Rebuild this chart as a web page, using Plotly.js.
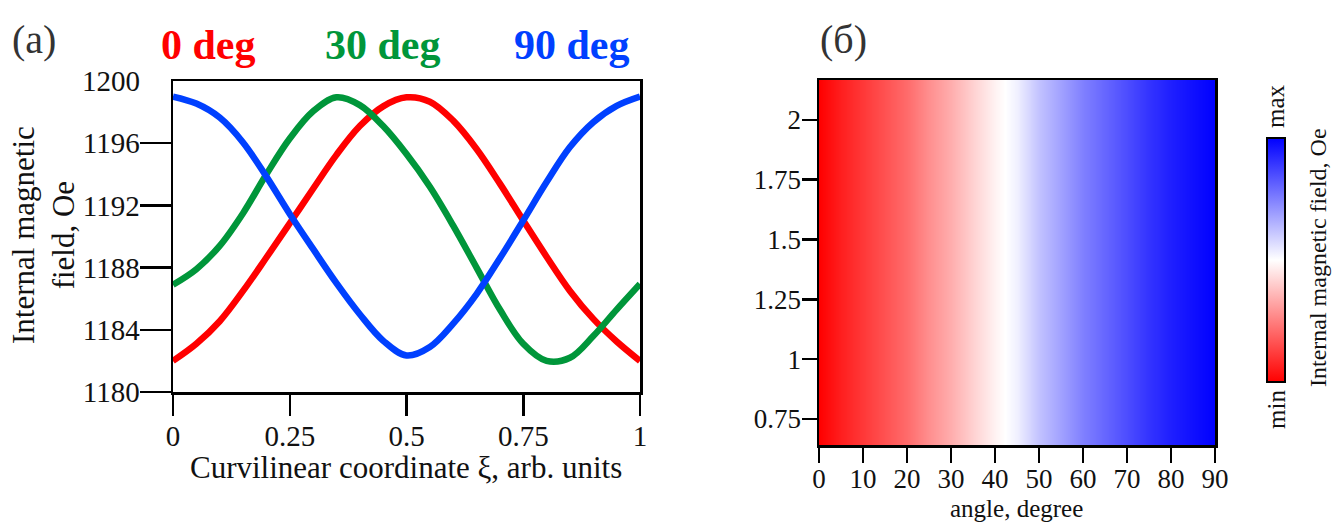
<!DOCTYPE html>
<html>
<head>
<meta charset="utf-8">
<script src="https://cdn.plot.ly/plotly-3.0.1.min.js"></script>
<style>
html,body{margin:0;padding:0;background:#fff;}
#chart{width:1334px;height:522px;}
</style>
</head>
<body>
<div id="chart"></div>
<script>
// ---- Panel (a): field along the curvilinear coordinate ----
const xi = [0, 0.05, 0.10, 0.15, 0.20, 0.25, 0.30, 0.35, 0.40, 0.45, 0.50,
            0.55, 0.60, 0.65, 0.70, 0.75, 0.80, 0.85, 0.90, 0.95, 1.0];
const field0deg  = [1182.0, 1183.1, 1184.55, 1186.5, 1188.65, 1190.85, 1193.07, 1195.25, 1197.1, 1198.37, 1198.95,
                    1198.67, 1197.45, 1195.63, 1193.4, 1191.03, 1188.7, 1186.5, 1184.7, 1183.25, 1182.0];
const field30deg = [1186.9, 1187.9, 1189.4, 1191.5, 1194.0, 1196.3, 1198.05, 1198.95, 1198.45, 1197.1, 1195.3,
                    1193.2, 1190.7, 1188.0, 1185.3, 1183.1, 1182.0, 1182.2, 1183.6, 1185.3, 1186.95];
const field90deg = [1199.0, 1198.55, 1197.65, 1196.05, 1193.85, 1191.45, 1189.2, 1187.0, 1185.0, 1183.3, 1182.35,
                    1182.9, 1184.4, 1186.3, 1188.6, 1191.03, 1193.5, 1195.75, 1197.35, 1198.4, 1199.0];
const seriesNames = ["0 deg", "30 deg", "90 deg"];
const xTickVals = [0, 0.25, 0.5, 0.75, 1];
const xTickText = ["0", "0.25", "0.5", "0.75", "1"];
const yTickVals = [1180, 1184, 1188, 1192, 1196];
const yTickText = ["1180", "1184", "1188", "1192", "1196"];

// ---- Panel (б): normalised internal field vs angle ----
const angles = [0, 5, 10, 15, 20, 25, 30, 35, 40, 45, 50, 55, 60, 65, 70, 75, 80, 85, 90];
const fieldNorm = [0.0, 0.06, 0.11, 0.16, 0.21, 0.28, 0.34, 0.41, 0.475, 0.53, 0.62, 0.685, 0.75, 0.80, 0.85, 0.90, 0.94, 0.97, 1.0];
const heightRows = [0.6, 2.2];
const angleTicks = [0, 10, 20, 30, 40, 50, 60, 70, 80, 90];
const hTickVals = [0.75, 1, 1.25, 1.5, 1.75, 2];
const hTickText = ["0.75", "1", "1.25", "1.5", "1.75", "2"];

const W = 1334, H = 522;
const px = v => v / W;
const py = v => 1 - v / H;

const RED = "#ff0000", GREEN = "#00963a", BLUE = "#0040ff";
const SERIF = "Liberation Serif, Times New Roman, serif";

const traces = [
  {x: xi, y: field0deg, name: seriesNames[0], mode: "lines", line: {color: RED, width: 6.5, shape: "spline"}, xaxis: "x", yaxis: "y"},
  {x: xi, y: field30deg, name: seriesNames[1], mode: "lines", line: {color: GREEN, width: 6.5, shape: "spline"}, xaxis: "x", yaxis: "y"},
  {x: xi, y: field90deg, name: seriesNames[2], mode: "lines", line: {color: BLUE, width: 6.5, shape: "spline"}, xaxis: "x", yaxis: "y"},
  {
    type: "heatmap", x: angles, y: heightRows, z: heightRows.map(() => fieldNorm),
    zmin: 0, zmax: 1, zsmooth: "best", xaxis: "x2", yaxis: "y2",
    colorscale: [[0, "#ff0000"], [0.5, "#ffffff"], [1, "#0000ff"]],
    colorbar: {
      x: px(1267), xanchor: "left", xpad: 0, y: py(260), yanchor: "middle", ypad: 0,
      thickness: 18, thicknessmode: "pixels", len: 244, lenmode: "pixels",
      outlinewidth: 2, outlinecolor: "#000", borderwidth: 0,
      showticklabels: false, ticks: ""
    }
  }
];

const axisCommon = {
  showline: true, linecolor: "#000", linewidth: 2.5, mirror: true,
  showgrid: false, zeroline: false, ticks: "outside", tickcolor: "#000", tickwidth: 2.5,
  automargin: false, fixedrange: true
};

const layout = {
  width: W, height: H, margin: {l: 0, r: 0, t: 0, b: 0},
  paper_bgcolor: "#fff", plot_bgcolor: "#fff", showlegend: false,
  font: {family: SERIF, color: "#111"},
  xaxis: Object.assign({}, axisCommon, {
    domain: [px(173), px(640)], range: [0, 1], anchor: "y",
    tickvals: xTickVals, ticktext: xTickText, ticklen: 21, ticklabelstandoff: -4,
    tickfont: {family: SERIF, size: 29, color: "#111"}
  }),
  yaxis: Object.assign({}, axisCommon, {
    domain: [py(392), py(81)], range: [1180, 1200], anchor: "x",
    tickvals: yTickVals, ticktext: yTickText, ticklen: 31, ticklabelstandoff: -6,
    tickfont: {family: SERIF, size: 29, color: "#111"}
  }),
  xaxis2: Object.assign({}, axisCommon, {
    domain: [px(819), px(1215)], range: [0, 90], anchor: "y2",
    tickvals: angleTicks, ticklen: 15, ticklabelstandoff: -7,
    tickfont: {family: SERIF, size: 27, color: "#111"}
  }),
  yaxis2: Object.assign({}, axisCommon, {
    domain: [py(445), py(80)], range: [0.641, 2.167], anchor: "x2",
    tickvals: hTickVals, ticktext: hTickText, ticklen: 15, ticklabelstandoff: -5,
    tickfont: {family: SERIF, size: 27, color: "#111"}
  }),
  annotations: [
    {text: "1200", xref: "paper", yref: "y", x: px(142), y: 1200, xanchor: "right", yanchor: "middle", showarrow: false,
     font: {family: SERIF, size: 29, color: "#111"}},
    {text: "Curvilinear coordinate ξ, arb. units", xref: "paper", yref: "paper", x: px(406), y: py(467), xanchor: "center", yanchor: "middle", showarrow: false,
     font: {family: SERIF, size: 31, color: "#111"}},
    {text: "angle, degree", xref: "paper", yref: "paper", x: px(1016), y: py(508), xanchor: "center", yanchor: "middle", showarrow: false,
     font: {family: SERIF, size: 25, color: "#111"}},
    {text: "(a)", xref: "paper", yref: "paper", x: px(34), y: py(40), xanchor: "center", yanchor: "middle", showarrow: false,
     font: {family: SERIF, size: 40, color: "#333"}},
    {text: "(б)", xref: "paper", yref: "paper", x: px(843), y: py(40), xanchor: "center", yanchor: "middle", showarrow: false,
     font: {family: SERIF, size: 40, color: "#333"}},
    {text: "<b>" + seriesNames[0] + "</b>", xref: "paper", yref: "paper", x: px(209), y: py(45), xanchor: "center", yanchor: "middle", showarrow: false,
     font: {family: SERIF, size: 42, color: RED}},
    {text: "<b>" + seriesNames[1] + "</b>", xref: "paper", yref: "paper", x: px(383), y: py(45), xanchor: "center", yanchor: "middle", showarrow: false,
     font: {family: SERIF, size: 42, color: GREEN}},
    {text: "<b>" + seriesNames[2] + "</b>", xref: "paper", yref: "paper", x: px(572), y: py(45), xanchor: "center", yanchor: "middle", showarrow: false,
     font: {family: SERIF, size: 42, color: BLUE}},
    {text: "Internal magnetic<br>field, Oe", xref: "paper", yref: "paper", x: px(43), y: py(235), xanchor: "center", yanchor: "middle", showarrow: false,
     textangle: -90, font: {family: SERIF, size: 31, color: "#111"}},
    {text: "Internal magnetic field, Oe", xref: "paper", yref: "paper", x: px(1318), y: py(258), xanchor: "center", yanchor: "middle", showarrow: false,
     textangle: -90, font: {family: SERIF, size: 24, color: "#111"}},
    {text: "max", xref: "paper", yref: "paper", x: px(1276), y: py(106), xanchor: "center", yanchor: "middle", showarrow: false,
     textangle: -90, font: {family: SERIF, size: 25, color: "#111"}},
    {text: "min", xref: "paper", yref: "paper", x: px(1276), y: py(410), xanchor: "center", yanchor: "middle", showarrow: false,
     textangle: -90, font: {family: SERIF, size: 25, color: "#111"}}
  ]
};

Plotly.newPlot("chart", traces, layout, {displayModeBar: false, staticPlot: true});
</script>
</body>
</html>
